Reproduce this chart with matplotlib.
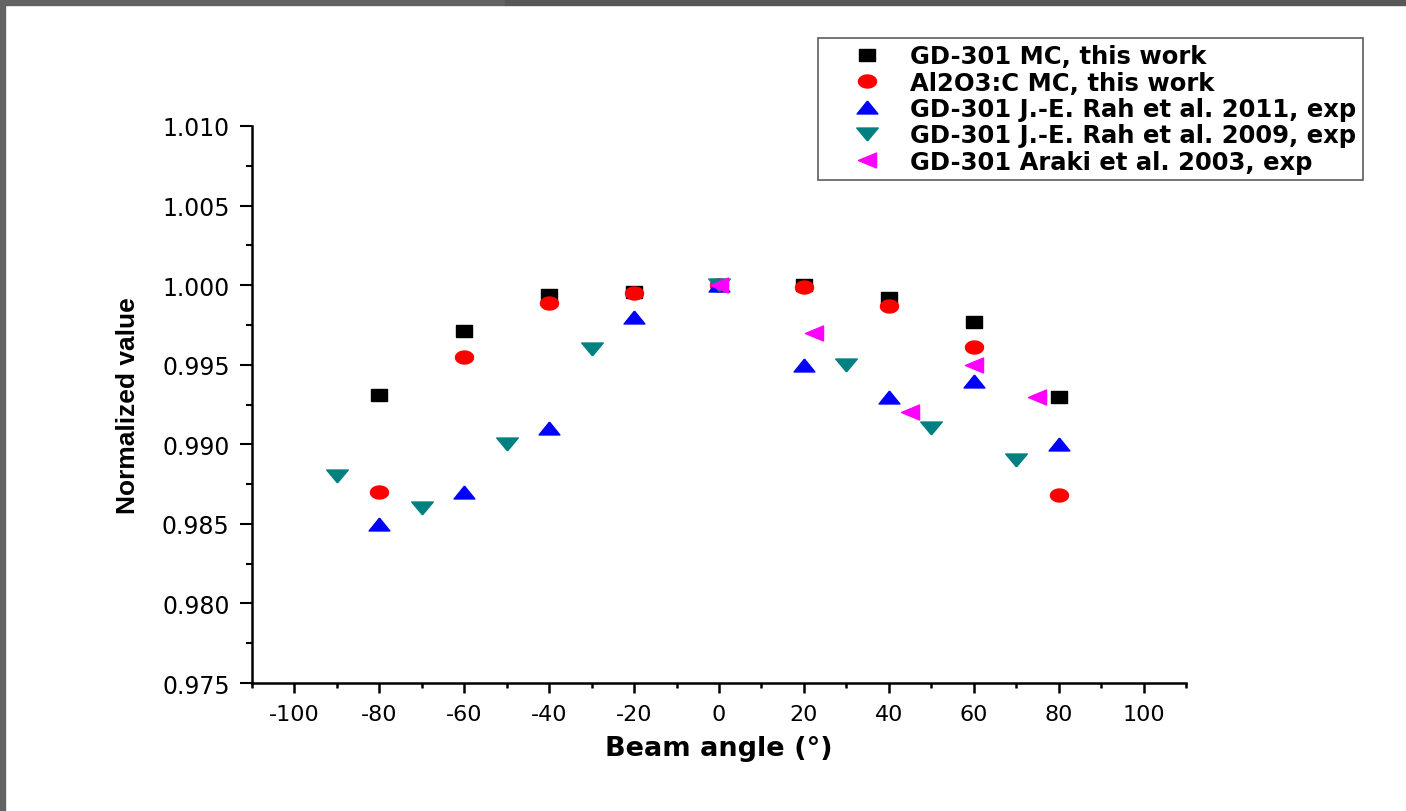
import matplotlib
matplotlib.use("Agg")
import matplotlib.pyplot as plt
import numpy as np
from matplotlib.patches import Rectangle

plt.rcParams["axes.unicode_minus"] = False

# data
angles_mc = [-80, -60, -40, -20, 0, 20, 40, 60, 80]
gd301_mc = [0.9931, 0.9971, 0.9994, 0.9996, 1.0000, 1.0000, 0.9992, 0.9977, 0.9930]
al2o3_mc = [0.9870, 0.9955, 0.9989, 0.9995, 1.0000, 0.9999, 0.9987, 0.9961, 0.9868]

angles_rah2011 = [-80, -60, -40, -20, 0, 20, 40, 60, 80]
rah2011 = [0.985, 0.987, 0.991, 0.998, 1.000, 0.995, 0.993, 0.994, 0.990]

angles_rah2009 = [-90, -70, -50, -30, 0, 30, 50, 70]
rah2009 = [0.988, 0.986, 0.990, 0.996, 1.000, 0.995, 0.991, 0.989]

angles_araki = [0, 22.5, 45, 60, 75]
araki = [1.000, 0.997, 0.992, 0.995, 0.993]

labels = ["GD-301 MC, this work",
          "Al2O3:C MC, this work",
          "GD-301 J.-E. Rah et al. 2011, exp",
          "GD-301 J.-E. Rah et al. 2009, exp",
          "GD-301 Araki et al. 2003, exp"]

# wide markers (the original picture is stretched sideways)
t = np.linspace(0, 2 * np.pi, 40)
m_circle = list(zip(np.cos(t), 0.72 * np.sin(t)))
m_square = [(-1, -0.72), (1, -0.72), (1, 0.72), (-1, 0.72), (-1, -0.72)]
m_up = [(0, 0.62), (-1, -0.62), (1, -0.62), (0, 0.62)]
m_down = [(0, -0.6), (-1, 0.6), (1, 0.6), (0, -0.6)]
m_left = [(-1, 0), (1, 0.83), (1, -0.83), (-1, 0)]

fig = plt.figure(figsize=(14.06, 8.12), dpi=100)
ax = fig.add_axes([0.1792, 0.1576, 0.6643, 0.6860])

ax.plot(angles_mc, gd301_mc, ls="none", marker=m_square, ms=11.5, color="black", label=labels[0])
ax.plot(angles_mc, al2o3_mc, ls="none", marker=m_circle, ms=13, color="red", label=labels[1])
ax.plot(angles_rah2011, rah2011, ls="none", marker=m_up, ms=15, color="blue", label=labels[2])
ax.plot(angles_rah2009, rah2009, ls="none", marker=m_down, ms=15.5, color="#008080", label=labels[3])
ax.plot(angles_araki, araki, ls="none", marker=m_left, ms=13, color="magenta", label=labels[4])

ax.set_xlim(-110, 110)
ax.set_ylim(0.975, 1.010)
ax.set_xticks(np.arange(-100, 101, 20))
ax.set_xticks(np.arange(-110, 111, 10), minor=True)
ax.set_yticks(np.arange(0.975, 1.0101, 0.005))
ax.set_yticks(np.arange(0.9775, 1.01, 0.005), minor=True)
ax.yaxis.set_major_formatter(plt.FormatStrFormatter("%.3f"))

for s in ["top", "right"]:
    ax.spines[s].set_visible(False)
for s in ["left", "bottom"]:
    ax.spines[s].set_linewidth(1.8)

ax.tick_params(axis="x", which="major", direction="out", length=7, width=1.8, pad=8, labelsize=16)
ax.tick_params(axis="x", which="minor", direction="out", length=3.5, width=1.8)
ax.tick_params(axis="y", which="major", direction="out", length=9, width=1.5, pad=7, labelsize=17)
ax.tick_params(axis="y", which="minor", direction="out", length=4.5, width=1.5)

ax.set_xlabel("Beam angle (°)", fontsize=19.5, fontweight="bold", labelpad=8)
ax.set_ylabel("Normalized value", fontsize=19, fontweight="bold",
              family="Liberation Sans", labelpad=16)

leg = ax.legend(loc="upper left", bbox_to_anchor=(818 / 1406, 1 - 39 / 812),
                bbox_transform=fig.transFigure, numpoints=1,
                prop={"weight": "bold", "size": 17.5}, frameon=True, fancybox=False,
                borderpad=0.25, handlelength=3.55, handletextpad=0.0,
                labelspacing=0.1, borderaxespad=0)
leg.get_frame().set_edgecolor("#333333")
leg.get_frame().set_linewidth(1.2)

# grey frame along top and left edge
fig.patches.append(Rectangle((0, 1 - 6 / 812), 505 / 1406, 6 / 812, transform=fig.transFigure,
                             color="#636363", zorder=5))
fig.patches.append(Rectangle((505 / 1406, 1 - 6 / 812), 1, 6 / 812, transform=fig.transFigure,
                             color="#575757", zorder=5))
fig.patches.append(Rectangle((0, 0), 5 / 1406, 1, transform=fig.transFigure,
                             color="#636363", zorder=5))

fig.savefig("out.png", dpi=100)
